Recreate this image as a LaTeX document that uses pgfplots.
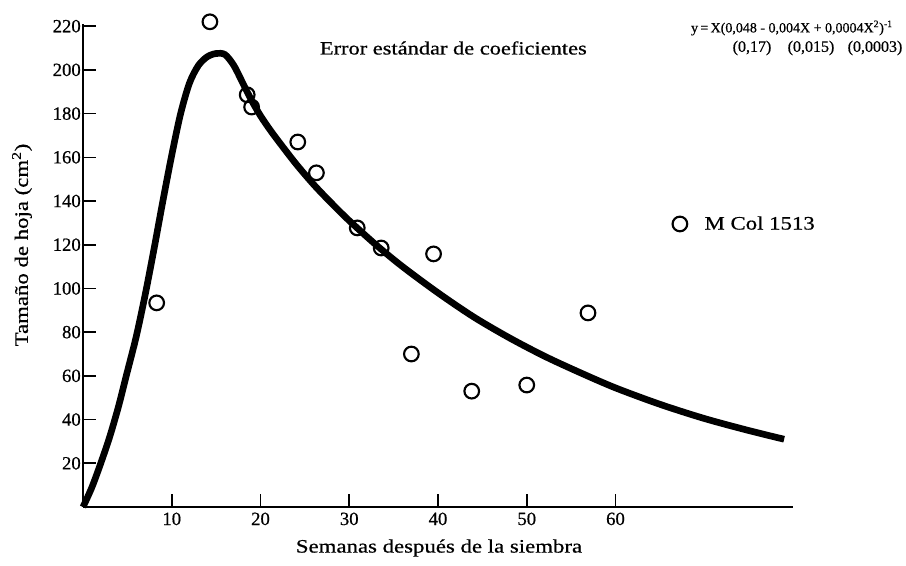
\documentclass[border=0pt]{standalone}
\usepackage{pgfplots}
\pgfplotsset{compat=1.18}
\usepackage{fontspec}
\setmainfont[FakeBold=0.6]{Liberation Serif}
\newfontfamily\wide[FakeStretch=1.2,FakeBold=0.6]{Liberation Serif}

% fitted curve
\pgfplotstableread{
x y
0 0
1 9
2 20
3 32
4 46
5 62
6 78
7 97
8 118
9 140
10 161
11 180
12 194
13 202
14 206
15 207.5
16 207
17 202
18 194
19 186
20 179
21 173
22 167.5
24 157
26 147.5
28 139
30 131
33 120
36 110
40 98
44 87
48 77.5
52 69
56 61.5
60 54.5
65 47
70 40.5
75 35
79 31
}\curvetab

% observed leaf size, M Col 1513
\pgfplotstableread{
x y
8.3 93.4
14.3 222
18.5 188.6
19.0 183
24.2 167
26.3 152.9
30.9 127.7
33.6 118.5
37.0 70
39.5 115.8
43.8 53
50.0 55.8
56.9 88.8
}\obstab

\begin{document}
\begin{tikzpicture}
\useasboundingbox (-62.25pt,-44.25pt) rectangle (617.25pt,380.25pt);
\begin{axis}[
  at={(0,0)}, anchor=south west,
  scale only axis, width=532.5pt, height=362.25pt,
  xmin=0, xmax=80, ymin=0, ymax=221,
  axis lines=left,
  axis line style={-, line width=2.2pt},
  xtick={10,20,...,60}, ytick={20,40,...,220},
  tick align=inside, major tick length=9.75pt,
  tick style={line width=1.2pt, black},
  /pgf/number format/assume math mode=true,
  ticklabel style={font=\fontsize{14}{16}\selectfont},
  yticklabel style={inner sep=0pt, xshift=-1.5pt},
  xticklabel style={inner sep=0pt, yshift=-4pt},
  clip=false,
  legend style={draw=none, fill=none, at={(axis cs:66.4,129.5)}, anchor=west,
    font=\wide\fontsize{14.25}{17}\selectfont, inner sep=0pt,
    nodes={inner sep=0pt}},
  legend image code/.code={%
    \draw[#1] plot coordinates {(5.5pt,0pt)};
    \path[draw=none] (0pt,0pt) -- (24pt,0pt);},
]
\addplot[black, line width=5pt, smooth, forget plot] table[x=x, y=y] {\curvetab};
\addplot[only marks, mark=o, mark size=5.5pt, mark options={line width=1.6pt, black}] table[x=x, y=y] {\obstab};
\addlegendentry{M Col 1513}
\end{axis}
\begin{scope}[x=0.75pt, y=-0.75pt, shift={(-62.25pt,380.25pt)}]
  \node[anchor=east, inner sep=0pt] at (893,28) {\fontsize{10.5}{12}\selectfont y\,=\,X(0,048 - 0,004X + 0,0004X\textsuperscript{2})\textsuperscript{-1}};
  \node[anchor=east, inner sep=0pt] at (587,48) {\wide\fontsize{14}{16}\selectfont Error estándar de coeficientes};
  \node[inner sep=0pt] at (752,48) {\fontsize{12}{14}\selectfont (0,17)};
  \node[inner sep=0pt] at (811,48) {\fontsize{12}{14}\selectfont (0,015)};
  \node[inner sep=0pt] at (875,48) {\fontsize{12}{14}\selectfont (0,0003)};
  \node[rotate=90, inner sep=0pt] at (22,245) {\wide\fontsize{14.25}{17}\selectfont Tamaño de hoja (cm\textsuperscript{2})};
  \node[inner sep=0pt] at (439,548) {\wide\fontsize{14.25}{17}\selectfont Semanas después de la siembra};
\end{scope}
\end{tikzpicture}
\end{document}
